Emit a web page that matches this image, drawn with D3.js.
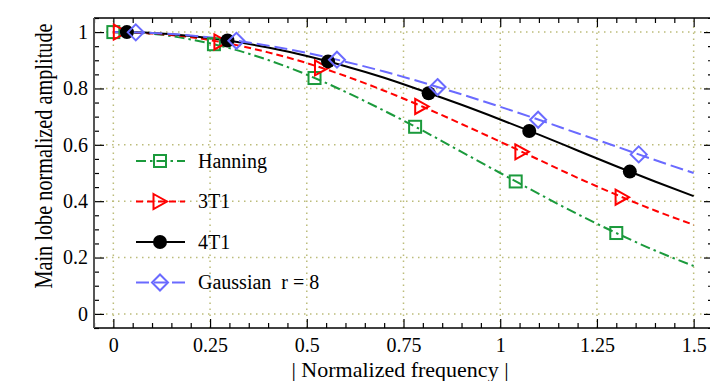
<!DOCTYPE html>
<html>
<head>
<meta charset="utf-8">
<script src="https://cdn.jsdelivr.net/npm/d3@7"></script>
<style>
  body { margin: 0; background: #fff; }
  svg text { font-family: "Liberation Serif", "Times New Roman", Times, "DejaVu Serif", serif; fill: #000; }
</style>
</head>
<body>
<svg id="chart" width="710" height="381"></svg>
<script>
// curve samples (normalized frequency -> amplitude)
const freq    = [0, 0.1, 0.2, 0.3, 0.4, 0.5, 0.6, 0.7, 0.8, 0.9, 1.0, 1.1, 1.2, 1.3, 1.4, 1.5];
const hanning = [1, 0.994, 0.974, 0.943, 0.901, 0.849, 0.788, 0.721, 0.650, 0.575, 0.500, 0.426, 0.354, 0.287, 0.225, 0.170];
const t3t1    = [1, 0.995, 0.982, 0.959, 0.928, 0.890, 0.844, 0.792, 0.735, 0.674, 0.611, 0.547, 0.483, 0.423, 0.367, 0.316];
const t4t1    = [1, 0.997, 0.986, 0.969, 0.945, 0.915, 0.879, 0.838, 0.791, 0.742, 0.690, 0.636, 0.580, 0.524, 0.470, 0.418];
const gauss   = [1, 0.997, 0.988, 0.973, 0.952, 0.926, 0.895, 0.860, 0.821, 0.779, 0.735, 0.689, 0.641, 0.594, 0.546, 0.500];

// marker positions
const hanMarkX   = [0, 0.26, 0.52, 0.78, 1.04, 1.30];
const hanMarkY   = [1, 0.957, 0.837, 0.664, 0.470, 0.287];
const t3MarkX    = [0.018, 0.278, 0.538, 0.797, 1.056, 1.315];
const t3MarkY    = [1, 0.965, 0.873, 0.736, 0.575, 0.414];
const t4MarkX    = [0.035, 0.295, 0.555, 0.815, 1.075, 1.335];
const t4MarkY    = [1, 0.970, 0.896, 0.783, 0.649, 0.505];
const gaussMarkX = [0.058, 0.318, 0.578, 0.838, 1.098, 1.358];
const gaussMarkY = [0.999, 0.969, 0.902, 0.805, 0.689, 0.566];

const xTicks = [0, 0.25, 0.5, 0.75, 1, 1.25, 1.5];
const xMinor = [-0.05, 0.05, 0.1, 0.15, 0.2, 0.3, 0.35, 0.4, 0.45, 0.55, 0.6, 0.65, 0.7, 0.8, 0.85, 0.9, 0.95,
                1.05, 1.1, 1.15, 1.2, 1.3, 1.35, 1.4, 1.45, 1.55];
const yTicks = [0, 0.2, 0.4, 0.6, 0.8, 1];
const yMinor = [-0.05, 0.05, 0.1, 0.15, 0.25, 0.3, 0.35, 0.45, 0.5, 0.55, 0.65, 0.7, 0.75, 0.85, 0.9, 0.95, 1.05];

const series = [
  { name: "Hanning",          ys: hanning, mx: hanMarkX,   my: hanMarkY,   color: "#1b9a3c", dash: "10,4,2.5,4", marker: "square" },
  { name: "3T1",              ys: t3t1,    mx: t3MarkX,    my: t3MarkY,    color: "#ff0000", dash: "7,4",        marker: "triangle" },
  { name: "4T1",              ys: t4t1,    mx: t4MarkX,    my: t4MarkY,    color: "#000000", dash: null,         marker: "circle" },
  { name: "Gaussian\u00a0 r = 8", ys: gauss, mx: gaussMarkX, my: gaussMarkY, color: "#6a6aff", dash: "13,5",     marker: "diamond" }
];

const FONT = '"Liberation Serif", "Times New Roman", Times, "DejaVu Serif", serif';
const pl = 94, pr = 713, pt = 18, pb = 328;
const x = d3.scaleLinear().domain([-0.05, 1.55]).range([pl, pr]);
const y = d3.scaleLinear().domain([-0.05, 1.05]).range([pb, pt]);

const svg = d3.select("#chart");

// grid
const grid = svg.append("g").attr("stroke", "#bcbc7a").attr("stroke-width", 1.5).attr("stroke-dasharray", "1.5,4.5");
grid.selectAll(".gx").data(xTicks).enter().append("line")
  .attr("x1", d => x(d)).attr("x2", d => x(d)).attr("y1", pb).attr("y2", pt);
grid.selectAll(".gy").data(yTicks).enter().append("line")
  .attr("x1", pl).attr("x2", pr).attr("y1", d => y(d)).attr("y2", d => y(d));

// axes: ticks point inward
function styleAxis(g) {
  g.attr("font-family", FONT).attr("font-size", 20);
  g.select(".domain").remove();
  g.selectAll(".tick line").attr("stroke", "#000").attr("stroke-width", 1.2);
  g.selectAll("text").attr("fill", "#000");
}
svg.append("g").attr("transform", `translate(0,${pb})`)
  .call(d3.axisBottom(x).tickValues(xTicks).tickSizeInner(-9).tickSizeOuter(0).tickPadding(10).tickFormat(d => String(d)))
  .call(styleAxis);
svg.append("g").attr("transform", `translate(0,${pb})`)
  .call(d3.axisBottom(x).tickValues(xMinor).tickSizeInner(-5).tickSizeOuter(0).tickFormat(""))
  .call(styleAxis);
svg.append("g").attr("transform", `translate(0,${pt})`)
  .call(d3.axisTop(x).tickValues(xTicks).tickSizeInner(-9).tickSizeOuter(0).tickFormat(""))
  .call(styleAxis);
svg.append("g").attr("transform", `translate(0,${pt})`)
  .call(d3.axisTop(x).tickValues(xMinor).tickSizeInner(-5).tickSizeOuter(0).tickFormat(""))
  .call(styleAxis);
svg.append("g").attr("transform", `translate(${pl},0)`)
  .call(d3.axisLeft(y).tickValues(yTicks).tickSizeInner(-10).tickSizeOuter(0).tickPadding(6).tickFormat(d => String(d)))
  .call(styleAxis);
svg.append("g").attr("transform", `translate(${pl},0)`)
  .call(d3.axisLeft(y).tickValues(yMinor).tickSizeInner(-5).tickSizeOuter(0).tickFormat(""))
  .call(styleAxis);
svg.append("g").attr("transform", `translate(${pr},0)`)
  .call(d3.axisRight(y).tickValues(yTicks).tickSizeInner(-9).tickSizeOuter(0).tickFormat(""))
  .call(styleAxis);
svg.append("g").attr("transform", `translate(${pr},0)`)
  .call(d3.axisRight(y).tickValues(yMinor).tickSizeInner(-5).tickSizeOuter(0).tickFormat(""))
  .call(styleAxis);

// frame
svg.append("line").attr("x1", pl).attr("x2", pr).attr("y1", pt).attr("y2", pt).attr("stroke", "#000").attr("stroke-width", 1.5);
svg.append("line").attr("x1", pl).attr("x2", pr).attr("y1", pb).attr("y2", pb).attr("stroke", "#000").attr("stroke-width", 1.5);
svg.append("line").attr("x1", pl).attr("x2", pl).attr("y1", pt).attr("y2", pb).attr("stroke", "#555").attr("stroke-width", 2);
svg.append("line").attr("x1", pr).attr("x2", pr).attr("y1", pt).attr("y2", pb).attr("stroke", "#000").attr("stroke-width", 1.5);

// markers
function drawMarker(g, type, color) {
  if (type === "square") {
    g.append("rect").attr("x", -6).attr("y", -6).attr("width", 12).attr("height", 12)
      .attr("fill", "none").attr("stroke", color).attr("stroke-width", 2);
  } else if (type === "triangle") {
    g.append("path").attr("d", "M-6.5,-7.5L7,0L-6.5,7.5Z")
      .attr("fill", "none").attr("stroke", color).attr("stroke-width", 2);
  } else if (type === "circle") {
    g.append("circle").attr("r", 7).attr("fill", color);
  } else {
    g.append("path").attr("d", "M0,-8L8,0L0,8L-8,0Z")
      .attr("fill", "none").attr("stroke", color).attr("stroke-width", 2);
  }
}

const line = d3.line().x(d => x(d[0])).y(d => y(d[1])).curve(d3.curveMonotoneX);

series.forEach(s => {
  svg.append("path")
    .datum(freq.map((f, i) => [f, s.ys[i]]))
    .attr("d", line)
    .attr("fill", "none")
    .attr("stroke", s.color)
    .attr("stroke-width", 2)
    .attr("stroke-dasharray", s.dash);
});
series.forEach(s => {
  s.mx.forEach((mx, i) => {
    const g = svg.append("g").attr("transform", `translate(${x(mx)},${y(s.my[i])})`);
    drawMarker(g, s.marker, s.color);
  });
});

// legend
const legend = svg.append("g").attr("font-family", FONT);
series.forEach((s, i) => {
  const ly = 161 + i * 40.5;
  legend.append("line").attr("x1", 136).attr("x2", 185).attr("y1", ly).attr("y2", ly)
    .attr("stroke", s.color).attr("stroke-width", 2).attr("stroke-dasharray", s.dash);
  drawMarker(legend.append("g").attr("transform", `translate(160,${ly})`), s.marker, s.color);
  legend.append("text").attr("x", 198).attr("y", ly + 6.5).attr("font-size", 20).text(s.name);
});

// axis titles (the y title is tall and narrow in the original)
svg.append("text").attr("transform", "translate(52,156) rotate(-90) scale(0.78,1)")
  .attr("font-family", FONT).attr("text-anchor", "middle").attr("font-size", 26)
  .text("Main lobe normalized amplitude");
svg.append("text").attr("x", 400).attr("y", 377)
  .attr("font-family", FONT).attr("text-anchor", "middle").attr("font-size", 22)
  .text("| Normalized frequency |");
</script>
</body>
</html>
